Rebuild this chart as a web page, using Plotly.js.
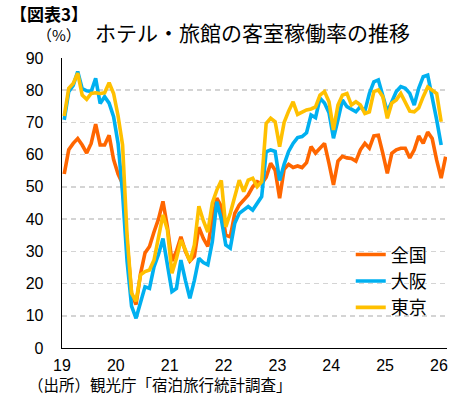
<!DOCTYPE html>
<html>
<head>
<meta charset="utf-8">
<script src="https://cdn.plot.ly/plotly-3.0.1.min.js"></script>
<style>html,body{margin:0;padding:0;background:#fff;}#chart{width:461px;height:402px;}</style>
</head>
<body>
<div id="chart"></div>
<script>
// Monthly occupancy rates (%), Jan 2019 onward
const startYear = 19;
const seriesNames = ["全国", "大阪", "東京"];
const national = [
  54, 61.5, 63.5, 65, 63, 60.5, 63.5, 69.5, 63, 63, 66, 58.5,
  54, 51, 33, 17, 13.5, 23, 29.5, 31.5, 36, 40, 45.5, 37.5,
  27, 30, 34.5, 30, 27, 28.5, 37.5, 34, 31.5, 40, 46.5, 44,
  35, 34.5, 41.8, 44.4, 45.9, 47.5, 50, 51.6, 51, 53, 57.3, 55.2,
  46.5, 55.5, 57, 56, 56.5, 56, 57.5, 62.5, 60.5, 62, 63.5, 57.3,
  50.6, 58, 59.5, 59, 58.8, 58, 61.5, 63.5, 62, 65.8, 66, 60.4,
  54.2, 60.4, 61.5, 62, 62, 59, 61.5, 65.8, 63.5, 67, 65, 58.3,
  52.7, 59.4
];
const osaka = [
  70.8, 79.5, 81.5, 85.8, 80.5, 79.8, 79.6, 83.7, 75.9, 78, 76, 71.8,
  63.5, 48, 27, 13, 9.2, 13.9, 19, 18.5, 25.2, 29, 34, 25.8,
  17.5, 18.5, 27.3, 21, 15.4, 21, 27.8, 26.5, 25.8, 33, 45.4, 40,
  32, 31, 38.7, 41.8, 42.8, 43.9, 42.8, 44.9, 47, 60.9, 61.5, 61,
  52, 57, 61, 63.5, 65.3, 65.6, 66.8, 72.3, 71.5, 77.5, 76, 73,
  65.1, 70.8, 77, 74.9, 74, 73.3, 74.9, 73.5, 79, 82.6, 83.2, 78,
  73.3, 76.4, 79.6, 81.1, 80.6, 79, 75.4, 80.6, 84.2, 84.7, 78, 70.8,
  63
];
const tokyo = [
  72, 80.6, 82.1, 85.3, 78.5, 77.2, 79, 79.2, 79, 79.2, 82.3, 79,
  72, 63, 35, 17, 14.5, 22.7, 23.7, 24.2, 27.3, 34, 41.3, 36.6,
  23.2, 27.8, 33.5, 30.4, 26.8, 32, 44, 39.5, 36, 45, 49, 52,
  37.6, 41.8, 47, 52.1, 48.5, 52.1, 52.7, 50.1, 51.6, 69.7, 71.3, 70.2,
  62.5, 70, 73.5, 76.4, 72.5, 73.3, 73.9, 74.2, 74.8, 78.5, 79.6, 76.4,
  67.7, 75.4, 78.5, 79, 75.4, 76.4, 75.4, 72.8, 73.3, 79.6, 80.1, 78,
  71.3, 76, 77, 79, 76.5, 73.5, 73.3, 74.5, 78, 81, 80, 79,
  70.2
];
const xTickVals = [19, 20, 21, 22, 23, 24, 25, 26];
const xTickText = ["19", "20", "21", "22", "23", "24", "25", "26"];
const colors = ["#FF6600", "#00B0F0", "#FFC000"];

function months(arr) { return arr.map((_, i) => startYear + (i + 0.5) / 12); }

const seriesData = [national, osaka, tokyo];
const traces = seriesData.map((ys, k) => ({
  x: months(ys), y: ys, type: "scatter", mode: "lines", name: seriesNames[k],
  line: { color: colors[k], width: 3.6 }, hoverinfo: "skip"
}));

const jp = "Noto Sans CJK JP";
const layout = {
  width: 461, height: 402,
  margin: { l: 62, r: 14, t: 58, b: 54 },
  paper_bgcolor: "#fff", plot_bgcolor: "#fff",
  showlegend: true,
  legend: {
    x: 0.75, y: 0.385, xanchor: "left", yanchor: "top",
    font: { family: jp, size: 18, color: "#000" },
    bgcolor: "rgba(0,0,0,0)", tracegroupgap: 0
  },
  title: {
    text: "ホテル・旅館の客室稼働率の推移",
    font: { family: jp, size: 21, color: "#000" },
    x: 95 / 461, xanchor: "left", xref: "container",
    y: 1 - 34 / 402, yanchor: "middle", yref: "container"
  },
  xaxis: {
    range: [19, 26.15], tickmode: "array", tickvals: xTickVals, ticktext: xTickText,
    showgrid: false, zeroline: false, showline: true, linecolor: "#000", linewidth: 1.3,
    ticks: "", ticklabelstandoff: 2,
    tickfont: { family: "Liberation Sans, Arial", size: 16, color: "#000" }
  },
  yaxis: {
    range: [0, 90], dtick: 10, tick0: 0,
    showgrid: true, gridcolor: "#D4D4D4", gridwidth: 1.5, griddash: "5px,4px",
    zeroline: false, showline: true, linecolor: "#000", linewidth: 1.3,
    ticks: "", ticklabelstandoff: 14,
    tickfont: { family: "Liberation Sans, Arial", size: 16, color: "#000" }
  },
  annotations: [
    { text: "【図表3】", showarrow: false,
      xanchor: "left", yanchor: "middle", font: { family: jp, size: 17, color: "#000", weight: "bold" } },
    { text: "（%）", showarrow: false, xanchor: "left", yanchor: "middle",
      font: { family: jp, size: 15, color: "#000" } },
    { text: "（出所）観光庁「宿泊旅行統計調査」", showarrow: false, xanchor: "left", yanchor: "middle",
      font: { family: jp, size: 15.5, color: "#000" } }
  ]
};

// place annotations in pixel terms relative to the paper (plot area)
const plotW = 461 - 62 - 14, plotH = 402 - 58 - 54;
function px(xp) { return (xp - 62) / plotW; }
function py(yp) { return (402 - 54 - yp) / plotH; }
const pos = [[8, 14], [35, 34], [26, 384]];
layout.annotations.forEach((a, k) => {
  a.xref = "paper"; a.yref = "paper"; a.x = px(pos[k][0]); a.y = py(pos[k][1]);
});

Plotly.newPlot("chart", traces, layout, { displayModeBar: false, staticPlot: true });
</script>
</body>
</html>
